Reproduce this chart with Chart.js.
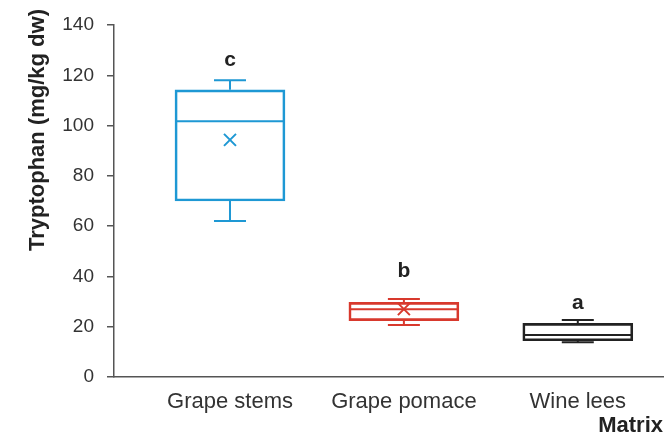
<!DOCTYPE html>
<html>
<head>
<meta charset="utf-8">
<script src="https://cdn.jsdelivr.net/npm/chart.js@4"></script>
<style>
  body { margin: 0; background: #fff; }
</style>
</head>
<body>
<canvas id="chart" width="671" height="441"></canvas>
<script>
const categories = ["Grape stems", "Grape pomace", "Wine lees"];
const mins = [62, 20.7, 13.8];
const q1s = [70, 22.4, 14.4];
const medians = [101.7, 26.9, 16.7];
const q3s = [114.2, 29.7, 21.3];
const maxs = [118, 31, 22.7];
const means = [94.3, 27, null];
const letters = ["c", "b", "a"];
const letterY = [126, 42, 29.5];
const colors = ["#1e98d4", "#d8392d", "#222222"];
const yTicks = [0, 20, 40, 60, 80, 100, 120, 140];

const font = "'Liberation Sans', Arial, sans-serif";

// whiskers, medians, means and letters drawn on the chart's own scales
const boxExtras = {
  id: "boxExtras",
  afterDatasetsDraw(chart) {
    const { ctx, scales: { x, y } } = chart;
    ctx.save();
    ctx.lineWidth = 2;
    categories.forEach((c, i) => {
      const cx = x.getPixelForValue(i + 1);
      const half = 54, cap = 16;
      ctx.strokeStyle = colors[i];
      ctx.beginPath();
      // median
      ctx.moveTo(cx - half, y.getPixelForValue(medians[i]));
      ctx.lineTo(cx + half, y.getPixelForValue(medians[i]));
      // whiskers
      ctx.moveTo(cx, y.getPixelForValue(q3s[i]));
      ctx.lineTo(cx, y.getPixelForValue(maxs[i]));
      ctx.moveTo(cx, y.getPixelForValue(q1s[i]));
      ctx.lineTo(cx, y.getPixelForValue(mins[i]));
      // caps
      ctx.moveTo(cx - cap, y.getPixelForValue(maxs[i]));
      ctx.lineTo(cx + cap, y.getPixelForValue(maxs[i]));
      ctx.moveTo(cx - cap, y.getPixelForValue(mins[i]));
      ctx.lineTo(cx + cap, y.getPixelForValue(mins[i]));
      ctx.stroke();
      // mean marker
      if (means[i] != null) {
        const my = y.getPixelForValue(means[i]);
        ctx.beginPath();
        ctx.moveTo(cx - 6, my - 6);
        ctx.lineTo(cx + 6, my + 6);
        ctx.moveTo(cx + 6, my - 6);
        ctx.lineTo(cx - 6, my + 6);
        ctx.stroke();
      }
      // significance letter
      ctx.fillStyle = "#222";
      ctx.font = "bold 21px " + font;
      ctx.textAlign = "center";
      ctx.textBaseline = "middle";
      ctx.fillText(letters[i], cx, y.getPixelForValue(letterY[i]));
    });
    // y axis title, placed as in the original figure
    ctx.translate(38, 130);
    ctx.rotate(-Math.PI / 2);
    ctx.fillStyle = "#222";
    ctx.font = "bold 22px " + font;
    ctx.textAlign = "center";
    ctx.textBaseline = "middle";
    ctx.fillText("Tryptophan (mg/kg dw)", 0, 0);
    ctx.restore();
  }
};

new Chart(document.getElementById("chart"), {
  type: "bar",
  data: {
    datasets: [{
      data: categories.map((c, i) => ({ x: i + 1, y: [q1s[i], q3s[i]] })),
      backgroundColor: "rgba(255,255,255,0)",
      borderColor: colors,
      borderWidth: 2,
      borderSkipped: false,
      barThickness: 110
    }]
  },
  options: {
    responsive: false,
    animation: false,
    layout: { padding: { top: 25, right: 8, left: 0, bottom: 0 } },
    plugins: { legend: { display: false }, tooltip: { enabled: false } },
    scales: {
      x: {
        type: "linear",
        offset: false,
        min: 0.333,
        max: 3.49,
        afterBuildTicks: (s) => { s.ticks = categories.map((c, i) => ({ value: i + 1 })); },
        afterFit: (s) => { s.height = 64; },
        grid: { display: false },
        border: { color: "#555", width: 1.5 },
        ticks: {
          color: "#333",
          font: { family: font, size: 22 },
          padding: 4,
          maxRotation: 0,
          autoSkip: false,
          callback: (v) => categories[v - 1]
        },
        title: {
          display: true,
          text: "Matrix",
          align: "end",
          color: "#222",
          font: { family: font, size: 22, weight: "bold" },
          padding: { top: 0, bottom: 2 }
        }
      },
      y: {
        min: 0,
        max: 140,
        afterBuildTicks: (s) => { s.ticks = yTicks.map((v) => ({ value: v })); },
        afterFit: (s) => { s.width = 114; },
        grid: { drawOnChartArea: false, tickLength: 7, color: "#555", lineWidth: 1.5 },
        border: { color: "#555", width: 1.5 },
        ticks: {
          color: "#333",
          font: { family: font, size: 19 },
          padding: 13
        }
      }
    }
  },
  plugins: [boxExtras]
});
</script>
</body>
</html>
